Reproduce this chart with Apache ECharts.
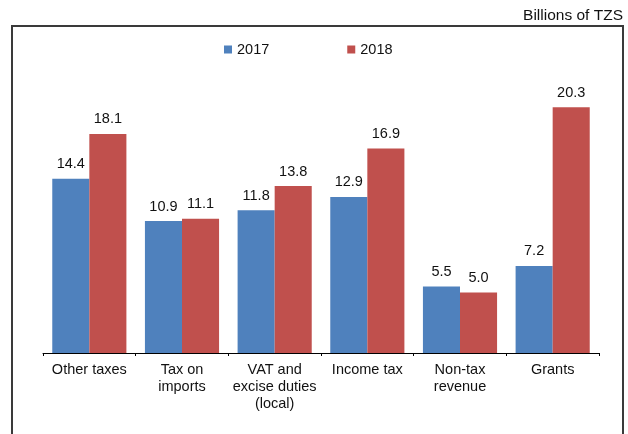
<!DOCTYPE html>
<html>
<head>
<meta charset="utf-8">
<script src="https://cdn.jsdelivr.net/npm/echarts@6/dist/echarts.min.js"></script>
<style>
  html, body { margin: 0; padding: 0; background: #ffffff; }
  #chart { width: 628px; height: 434px; }
</style>
</head>
<body>
<div id="chart"></div>
<script>
// Revenue sources, billions of TZS
const categories = ['Other taxes', 'Tax on\nimports', 'VAT and\nexcise duties\n(local)', 'Income tax', 'Non-tax\nrevenue', 'Grants'];
const seriesNames = ['2017', '2018'];
const values2017 = [14.4, 10.9, 11.8, 12.9, 5.5, 7.2];
const values2018 = [18.1, 11.1, 13.8, 16.9, 5.0, 20.3];
const unitLabel = 'Billions of TZS';

const FONT = '"Liberation Sans", Arial, Helvetica, sans-serif';
const BLUE = '#4F81BD';
const RED = '#C0504D';

const chart = echarts.init(document.getElementById('chart'), null, { renderer: 'canvas' });

const valueLabel = {
  show: true,
  position: 'top',
  distance: 7,
  color: '#111',
  fontFamily: FONT,
  fontSize: 14.5,
  formatter: p => p.value.toFixed(1)
};

chart.setOption({
  animation: false,
  backgroundColor: '#ffffff',
  graphic: [
    {
      type: 'rect',
      shape: { x: 12, y: 26, width: 611, height: 430 },
      style: { fill: 'none', stroke: '#3a3a3a', lineWidth: 2 },
      silent: true
    },
    {
      type: 'text',
      right: 5,
      top: 8,
      style: { text: unitLabel, fill: '#111', font: '15.5px ' + FONT }
    }
  ],
  legend: {
    data: seriesNames,
    left: 219,
    top: 37,
    itemWidth: 8,
    itemHeight: 8,
    itemGap: 78,
    icon: 'rect',
    textStyle: { color: '#111', fontFamily: FONT, fontSize: 14.5 }
  },
  grid: { left: 43, right: 29, top: 50.5, bottom: 81, containLabel: false },
  xAxis: {
    type: 'category',
    data: categories,
    axisLine: { lineStyle: { color: '#000', width: 1 } },
    axisTick: { show: true, length: 3, lineStyle: { color: '#000' } },
    axisLabel: {
      interval: 0,
      margin: 9,
      color: '#111',
      fontFamily: FONT,
      fontSize: 14.5,
      lineHeight: 16.7,
      align: 'center'
    }
  },
  yAxis: {
    type: 'value',
    min: 0,
    max: 25,
    show: false,
    splitLine: { show: false }
  },
  series: [
    {
      name: seriesNames[0],
      type: 'bar',
      data: values2017,
      itemStyle: { color: BLUE },
      barGap: '0%',
      barCategoryGap: '20%',
      label: valueLabel
    },
    {
      name: seriesNames[1],
      type: 'bar',
      data: values2018,
      itemStyle: { color: RED },
      barGap: '0%',
      barCategoryGap: '20%',
      label: valueLabel
    }
  ]
});
</script>
</body>
</html>
